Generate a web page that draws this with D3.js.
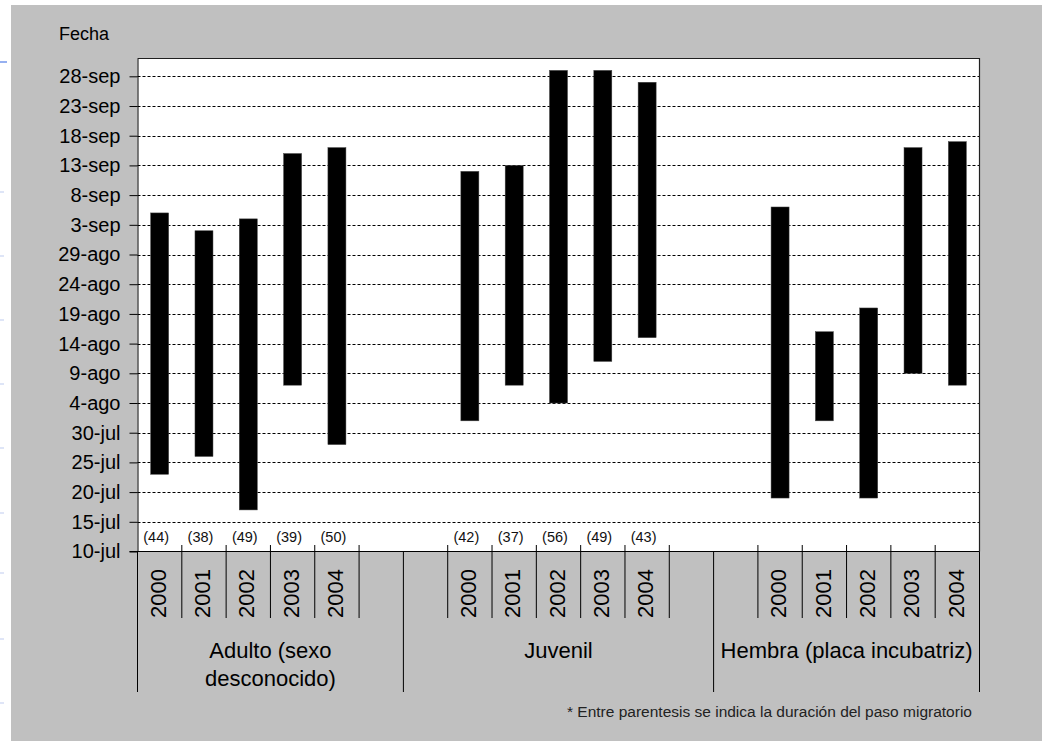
<!DOCTYPE html>
<html>
<head>
<meta charset="utf-8">
<script src="https://cdn.jsdelivr.net/npm/d3@7"></script>
<style>
  html, body { margin: 0; padding: 0; background: #ffffff; }
  svg { display: block; font-family: "Liberation Sans", Arial, sans-serif; }
</style>
</head>
<body>
<svg id="chart" width="1042" height="741"></svg>
<script>
// ---------------- data ----------------
const groupNames = ["Adulto (sexo desconocido)", "Juvenil", "Hembra (placa incubatriz)"];
const groupLines = [["Adulto (sexo", "desconocido)"], ["Juvenil"], ["Hembra (placa incubatriz)"]];
const years = ["2000", "2001", "2002", "2003", "2004"];
// category slots along the x axis ("" = empty slot)
const categories = ["2000","2001","2002","2003","2004","",
                    "","2000","2001","2002","2003","2004","",
                    "","2000","2001","2002","2003","2004"];
const categoryGroup = [0,0,0,0,0,0, 1,1,1,1,1,1,1, 2,2,2,2,2,2];

const adultoStart  = ["23-jul","26-jul","17-jul","7-ago","28-jul"];
const adultoEnd    = ["5-sep","2-sep","4-sep","15-sep","16-sep"];
const juvenilStart = ["1-ago","7-ago","4-ago","11-ago","15-ago"];
const juvenilEnd   = ["12-sep","13-sep","29-sep","29-sep","27-sep"];
const hembraStart  = ["19-jul","1-ago","19-jul","9-ago","7-ago"];
const hembraEnd    = ["6-sep","16-ago","20-ago","16-sep","17-sep"];

const adultoDuracion  = ["(44)","(38)","(49)","(39)","(50)"];
const juvenilDuracion = ["(42)","(37)","(56)","(49)","(43)"];
const hembraDuracion  = [];

const tickLabels = ["10-jul","15-jul","20-jul","25-jul","30-jul","4-ago","9-ago","14-ago",
                    "19-ago","24-ago","29-ago","3-sep","8-sep","13-sep","18-sep","23-sep","28-sep"];
const axisMin = "10-jul", axisMax = "1-oct";

const yTitle = "Fecha";
const footnote = "* Entre parentesis se indica la duración del paso migratorio";

// ---------------- helpers ----------------
const monthIdx = {jul: 6, ago: 7, sep: 8, oct: 9};
function parseFecha(s) {
  const [d, m] = s.split("-");
  return new Date(Date.UTC(2000, monthIdx[m], +d));
}

const seriesStart = [adultoStart, juvenilStart, hembraStart];
const seriesEnd = [adultoEnd, juvenilEnd, hembraEnd];
const seriesDur = [adultoDuracion, juvenilDuracion, hembraDuracion];

const bars = [];
categories.forEach((c, slot) => {
  if (c === "") return;
  const g = categoryGroup[slot];
  const i = years.indexOf(c);
  bars.push({slot, g, i, start: parseFecha(seriesStart[g][i]), end: parseFecha(seriesEnd[g][i]),
             dur: seriesDur[g][i]});
});

// ---------------- layout ----------------
const svg = d3.select("#chart");
const plot = {left: 137.5, right: 979.5, top: 58.5, bottom: 551.5};

// background
svg.append("rect").attr("x", 11).attr("y", 5).attr("width", 1042 - 11).attr("height", 741 - 5)
  .attr("fill", "#c0c0c0");
// small screenshot artifacts at left edge
[62, 192, 256, 320, 384, 448, 513, 573, 639, 703].forEach((yy, k) => {
  svg.append("line").attr("x1", 0).attr("x2", k === 0 ? 7 : 4).attr("y1", yy).attr("y2", yy)
    .attr("stroke", k === 0 ? "#4f7be6" : "#c9d4f2").attr("stroke-width", 1.2);
});

svg.append("rect").attr("x", plot.left).attr("y", plot.top)
  .attr("width", plot.right - plot.left).attr("height", plot.bottom - plot.top).attr("fill", "#ffffff");

const x = d3.scaleBand().domain(d3.range(categories.length)).range([plot.left, plot.right]).padding(0);
const y = d3.scaleUtc().domain([parseFecha(axisMin), parseFecha(axisMax)]).range([plot.bottom, plot.top]);

const tickDates = tickLabels.map(parseFecha);

// gridlines
svg.append("g").selectAll("line").data(tickDates.slice(1)).join("line")
  .attr("x1", plot.left).attr("x2", plot.right)
  .attr("y1", d => Math.round(y(d)) + 0.5).attr("y2", d => Math.round(y(d)) + 0.5)
  .attr("stroke", "#000").attr("stroke-width", 1).attr("stroke-dasharray", "3,2");

// bars
const barW = 18;
svg.append("g").selectAll("rect").data(bars).join("rect")
  .attr("x", d => x(d.slot) + (x.bandwidth() - barW) / 2)
  .attr("width", barW)
  .attr("y", d => y(d.end))
  .attr("height", d => y(d.start) - y(d.end))
  .attr("fill", "#000").attr("stroke", "#444").attr("stroke-width", 0.5);

// plot border top/right
svg.append("path")
  .attr("d", `M${plot.left},${plot.top}H${plot.right}V${plot.bottom}`)
  .attr("fill", "none").attr("stroke", "#202020").attr("stroke-width", 1.2);

// y axis
const yAxis = d3.axisLeft(y).tickValues(tickDates).tickSize(8).tickSizeOuter(0).tickPadding(9)
  .tickFormat((d, i) => tickLabels[i]);
const gy = svg.append("g").attr("transform", `translate(${plot.left},0)`).call(yAxis);
gy.select(".domain").attr("stroke", "#000");
gy.selectAll(".tick line").attr("stroke", "#000");
gy.selectAll(".tick text").attr("font-size", 20).attr("fill", "#000")
  .attr("font-family", "'Liberation Sans', Arial, sans-serif");

// y title
svg.append("text").attr("x", 59).attr("y", 40).attr("font-size", 18).attr("fill", "#000").text(yTitle);

// x axis line
svg.append("line").attr("x1", plot.left - 8).attr("x2", plot.right)
  .attr("y1", plot.bottom).attr("y2", plot.bottom).attr("stroke", "#000");

// category ticks (inner boundaries within groups)
const innerTicks = [];
const groupBounds = [];
categories.forEach((c, slot) => {
  if (slot === 0 || categoryGroup[slot] !== categoryGroup[slot - 1]) groupBounds.push(x(slot));
  else innerTicks.push(x(slot));
});
groupBounds.push(plot.right);

svg.append("g").selectAll("line").data(innerTicks).join("line")
  .attr("x1", d => d).attr("x2", d => d).attr("y1", 545).attr("y2", 618)
  .attr("stroke", "#000");
svg.append("g").selectAll("line").data(groupBounds).join("line")
  .attr("x1", d => d).attr("x2", d => d).attr("y1", plot.bottom).attr("y2", 692)
  .attr("stroke", "#000");

// year labels
svg.append("g").selectAll("text").data(categories.map((c, slot) => ({c, slot})).filter(d => d.c !== ""))
  .join("text")
  .attr("transform", d => `translate(${x(d.slot) + x.bandwidth() / 2 - 1.5},618) rotate(-90)`)
  .attr("dy", "0.35em")
  .attr("font-size", 22).attr("fill", "#000").text(d => d.c);

// group labels
groupLines.forEach((lines, g) => {
  const cx = (groupBounds[g] + groupBounds[g + 1]) / 2;
  lines.forEach((t, k) => {
    svg.append("text").attr("x", cx).attr("y", 658 + k * 28).attr("text-anchor", "middle")
      .attr("font-size", 22).attr("fill", "#000").text(t);
  });
});

// duration labels
svg.append("g").selectAll("text").data(bars.filter(d => d.dur)).join("text")
  .attr("x", d => x(d.slot) + x.bandwidth() / 2 - 3.5)
  .attr("y", 542).attr("text-anchor", "middle")
  .attr("font-size", 14.5).attr("fill", "#111").text(d => d.dur);

// footnote
svg.append("text").attr("x", 567).attr("y", 717).attr("font-size", 15.5).attr("fill", "#222").text(footnote);
</script>
</body>
</html>
